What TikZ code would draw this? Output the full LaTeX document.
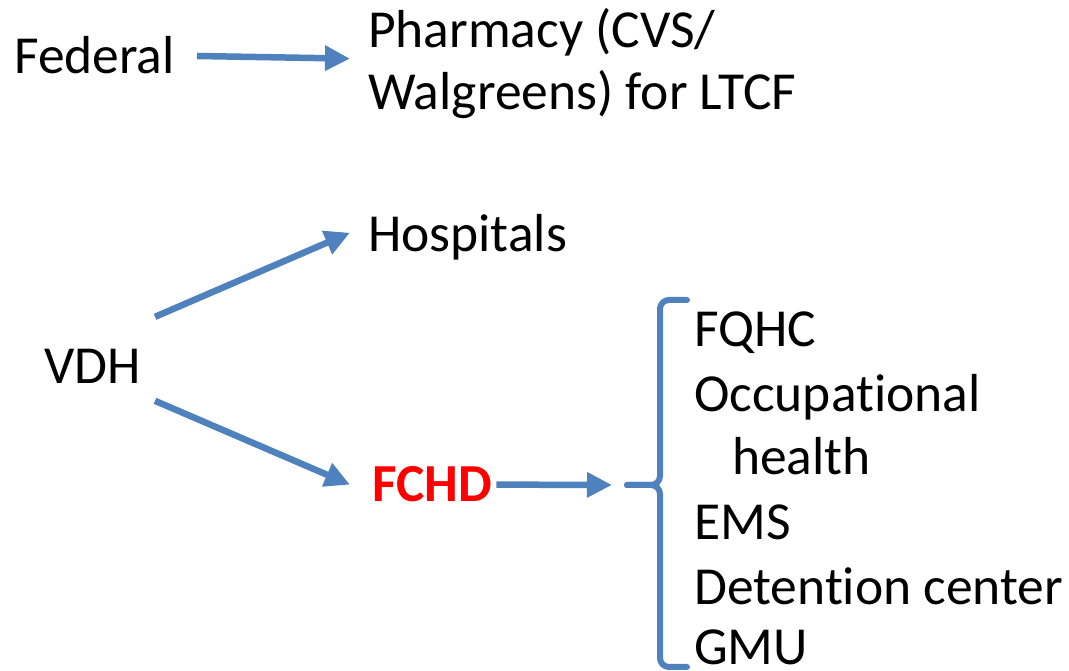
\documentclass[tikz,border=0pt]{standalone}
\usepackage{fontspec}
\setmainfont{Carlito}[Ligatures = NoCommon]
\usetikzlibrary{arrows.meta}

\definecolor{vdhblue}{HTML}{4F81BD}

\tikzset{
	lbl/.style = {inner sep = 0pt, anchor = base west, font = \fontsize{53.5}{62}\selectfont},
	arr/.style = {draw = vdhblue, line width = 6.5pt, -{Triangle[length = 25pt, width = 24pt]}},
	brace/.style = {draw = vdhblue, line width = 6pt, line cap = round, rounded corners = 9pt}
}

\begin{document}
\begin{tikzpicture}[x = 1pt, y = 1pt]

\useasboundingbox (0, 0) rectangle (1069, 671);

\node[lbl] (fed) at (14, 597) {Federal};
\node[lbl, align = left] (pharm) at (368, 561) {Pharmacy (CVS/\\Walgreens) for LTCF};
\node[lbl] (hosp) at (368, 419) {Hospitals};
\node[lbl] (vdh) at (44, 287) {VDH};
\node[lbl, text = red, font = \fontsize{53.5}{62}\selectfont\bfseries] (fchd) at (372, 169) {FCHD};

\foreach \txt/\x/\y [count = \i] in {FQHC/694/324, Occupational/694/259, health/732/196, EMS/694/131, Detention center/694/66, GMU/694/6}
	\node[lbl] (item\i) at (\x, \y) {\txt};

\coordinate (bracetip) at (627, 186);

\draw[brace] (687, 371) -- (660, 371) -- (660, 186) -- (bracetip);
\draw[brace] (bracetip) -- (660, 186) -- (660, 4) -- (687, 4);

\draw[arr, shorten <= 22pt] (fed.east) -- ([shift = {(-18, -3)}]fed.east -| pharm.west);
\draw[arr] ([shift = {(14, 50)}]vdh.east) -- ([shift = {(-18, 5)}]hosp.west);
\draw[arr] ([shift = {(14, -34)}]vdh.east) -- ([xshift = -22pt]fchd.west);
\draw[arr, shorten >= 15pt] ([xshift = 4pt]fchd.east) -- (bracetip);

\end{tikzpicture}
\end{document}
